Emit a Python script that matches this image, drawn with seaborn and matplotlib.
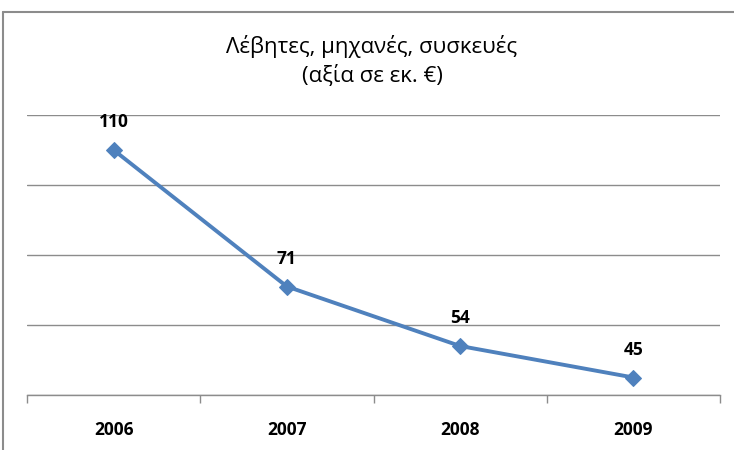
import matplotlib
matplotlib.use("Agg")
import matplotlib.pyplot as plt
import seaborn as sns
import pandas as pd
from matplotlib.lines import Line2D
from matplotlib.ticker import FixedLocator, NullFormatter

years = ["2006", "2007", "2008", "2009"]
values = [110, 71, 54, 45]
title_lines = ["Λέβητες, μηχανές, συσκευές", "(αξία σε εκ. €)"]

sns.set_theme(style="white")
plt.rcParams['font.family'] = ['Open Sans', 'DejaVu Sans']

df = pd.DataFrame({"year": years, "value": values})

fig = plt.figure(figsize=(7.34, 4.5), dpi=100)
ax = fig.add_axes([27/734, 1-395/450, (720-27)/734, (395-115)/450])

color = "#4F81BD"
sns.lineplot(data=df, x="year", y="value", ax=ax, color=color, linewidth=2.8,
             marker="D", markersize=8.5, markeredgecolor=color, sort=False)

ax.set_xlim(-0.5, 3.5)
ax.set_ylim(40, 120)
ax.set_yticks([40, 60, 80, 100, 120])
ax.yaxis.grid(True, color="#8C8C8C", linewidth=1)
ax.set_yticklabels([])
ax.tick_params(axis="y", length=0)
ax.set_xlabel("")
ax.set_ylabel("")

for s in ["top", "right", "left"]:
    ax.spines[s].set_visible(False)
ax.spines["bottom"].set_color("#8C8C8C")
ax.spines["bottom"].set_linewidth(1)

ax.xaxis.set_minor_locator(FixedLocator([-0.5, 0.5, 1.5, 2.5, 3.5]))
ax.xaxis.set_minor_formatter(NullFormatter())
ax.tick_params(axis="x", which="minor", bottom=True, length=6, color="#8C8C8C", width=1)
ax.tick_params(axis="x", which="major", bottom=False, length=0, pad=19)
for lbl in ax.get_xticklabels():
    lbl.set_fontsize(12.5)
    lbl.set_fontweight("bold")
    lbl.set_color("black")

for i, v in enumerate(values):
    ax.annotate(str(v), (i, v), xytext=(0, 20), textcoords="offset points",
                ha="center", va="center", fontsize=12.5, fontweight="bold", color="black")

fig.text(372/734, 1-47/450, title_lines[0], ha="center", va="center", fontsize=16, color="black")
fig.text(372/734, 1-76/450, title_lines[1], ha="center", va="center", fontsize=16, color="black")

fig.add_artist(Line2D([3/734, 1.0], [1-12/450, 1-12/450], color="#8C8C8C", linewidth=1.5, transform=fig.transFigure))
fig.add_artist(Line2D([3/734, 3/734], [0, 1-12/450], color="#8C8C8C", linewidth=1.5, transform=fig.transFigure))

fig.savefig("out.png", dpi=100, facecolor="white")
